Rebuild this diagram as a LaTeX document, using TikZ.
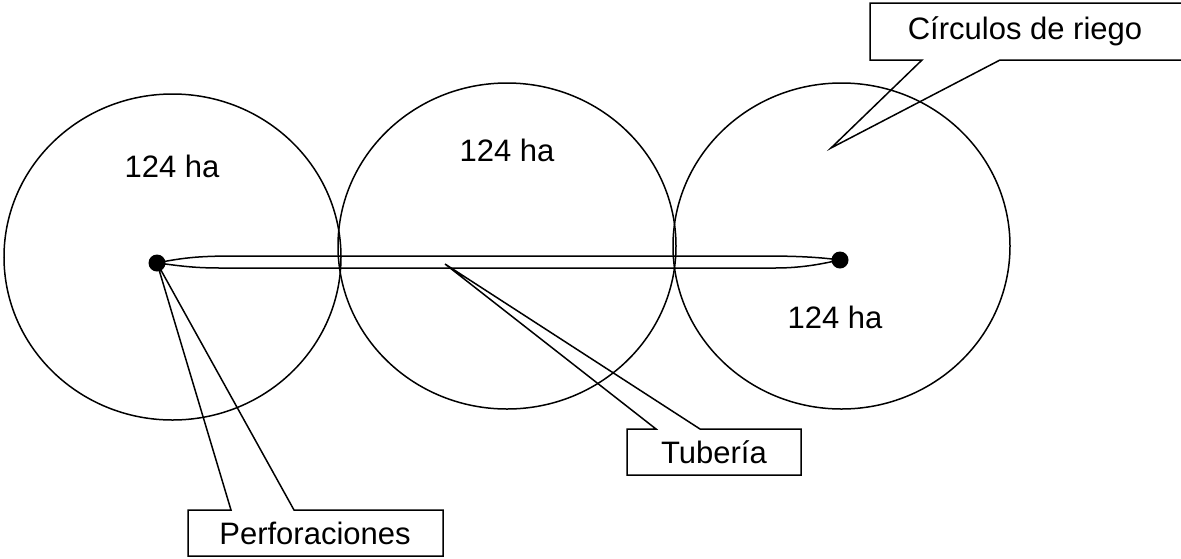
\documentclass[tikz,border=0pt]{standalone}
\usepackage{fontspec}
\setmainfont{Liberation Sans}
\begin{document}
\begin{tikzpicture}[x=1pt,y=-1pt,
  line/.style={line width=1.5pt,line join=miter},
  lbl/.style={inner sep=0pt,font=\fontsize{31}{37}\selectfont},
  welldot/.style={circle,fill=black,inner sep=0pt,minimum size=17pt}]
\useasboundingbox (0,0) rectangle (1181,558);
\clip (0,0) rectangle (1181,558);
% circles
\draw[line] (172.5,257) ellipse [x radius=168.5,y radius=163];
\draw[line] (507,246) ellipse [x radius=169,y radius=163];
\draw[line] (841.5,246) ellipse [x radius=168.5,y radius=163];
% area labels
\node[lbl] (a1) at (172,166) {124 ha};
\node[lbl] (a2) at (507,150) {124 ha};
\node[lbl] (a3) at (835,317) {124 ha};
% wells
\node[welldot] (w1) at (157,263) {};
\node[welldot] (w2) at (840,260) {};
% pipe
\draw[line] (w1.center) .. controls (190,256) and (210,256) .. (245,256) -- (765,256)
  .. controls (805,256) and (825,258) .. (w2.center)
  .. controls (825,263) and (805,268) .. (775,268) -- (220,268)
  .. controls (190,268) and (175,265) .. (w1.center);
% callout: Circulos de riego
\coordinate (tc) at (831,148);
\draw[line] (922,60) -- (870,60) -- (870,3) -- (1190,3) -- (1190,60) -- (1000,60) -- (tc) -- cycle;
\node[lbl] (cr) at (1025,31) {Círculos de riego};
% callout: Tuberia
\coordinate (tt) at (445,264);
\draw[line] (656,429) -- (627,429) -- (627,475) -- (801,475) -- (801,429) -- (700,429) -- (tt) -- cycle;
\node[lbl] (tb) at (714,452) {Tubería};
% callout: Perforaciones
\draw[line] (231,510) -- (188,510) -- (188,556) -- (443,556) -- (443,510) -- (294,510) -- (w1.center) -- cycle;
\node[lbl] (pf) at (315,533) {Perforaciones};
\end{tikzpicture}
\end{document}
